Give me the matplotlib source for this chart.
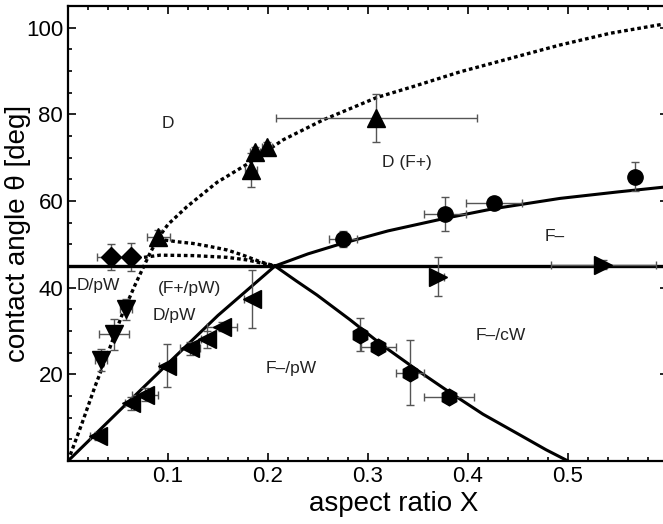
import matplotlib.pyplot as plt
from matplotlib.ticker import MultipleLocator

plt.rcParams['font.family'] = ['Liberation Sans', 'DejaVu Sans']

# boundary curves (X, theta)
d_upper_x = [0.0, 0.014, 0.027, 0.041, 0.054, 0.067, 0.081, 0.090, 0.100, 0.119, 0.149, 0.182,
             0.215, 0.255, 0.309, 0.345, 0.392, 0.442, 0.492, 0.542, 0.600]
d_upper_t = [0.0, 8.7, 17.2, 25.6, 33.7, 40.6, 47.5, 51.4, 54.6, 58.7, 64.3, 68.9,
             74.1, 78.7, 83.9, 86.4, 89.8, 92.9, 96.0, 98.7, 101.0]

arc_hi_x = [0.090, 0.109, 0.125, 0.142, 0.159, 0.175, 0.192, 0.207]
arc_hi_t = [51.2, 50.6, 50.2, 49.5, 48.7, 47.5, 46.0, 45.0]
arc_lo_x = [0.076, 0.092, 0.125, 0.159, 0.179, 0.207]
arc_lo_t = [47.0, 47.5, 47.4, 47.0, 46.4, 45.0]

pw_x = [0.0, 0.05, 0.10, 0.15, 0.207]
pw_t = [0.0, 11.3, 22.5, 33.6, 45.0]

fminus_x = [0.207, 0.240, 0.274, 0.320, 0.377, 0.425, 0.492, 0.550, 0.600]
fminus_t = [45.0, 47.8, 50.2, 53.1, 56.0, 58.2, 60.6, 62.1, 63.3]

cw_x = [0.207, 0.228, 0.249, 0.282, 0.315, 0.349, 0.382, 0.415, 0.452, 0.478, 0.500]
cw_t = [45.0, 41.6, 38.3, 32.6, 26.6, 21.0, 15.8, 10.8, 6.0, 2.6, 0.0]

# measurements
up_x = [0.090, 0.183, 0.187, 0.199, 0.308]
up_t = [51.7, 67.2, 71.4, 72.5, 79.2]
up_xe = [0.0115, 0.006, 0.005, 0.005, 0.1005]
up_te = [1.5, 3.9, 1.0, 1.0, 5.5]

dia_x = [0.043, 0.063]
dia_t = [47.0, 47.0]
dia_xe = [0.014, 0.003]
dia_te = [3.0, 3.2]

dn_x = [0.033, 0.046, 0.058]
dn_t = [23.3, 29.2, 35.0]
dn_xe = [0.006, 0.015, 0.006]
dn_te = [2.5, 3.5, 2.5]

lt_x = [0.030, 0.063, 0.077, 0.099, 0.122, 0.139, 0.154, 0.184]
lt_t = [5.8, 13.3, 15.3, 22.0, 26.0, 28.1, 31.0, 37.4]
lt_xe = [0.008, 0.006, 0.013, 0.008, 0.010, 0.006, 0.015, 0.008]
lt_te = [1.0, 1.5, 1.5, 5.0, 1.5, 2.0, 1.0, 6.6]

ci_x = [0.275, 0.377, 0.426, 0.567]
ci_t = [51.2, 57.0, 59.6, 65.6]
ci_xe = [0.014, 0.021, 0.028, 0.003]
ci_te = [1.9, 4.0, 0.8, 3.4]

hx_x = [0.292, 0.310, 0.342, 0.381]
hx_t = [29.1, 26.4, 20.4, 14.8]
hx_xe = [0.003, 0.0175, 0.014, 0.025]
hx_te = [3.8, 1.0, 7.5, 1.0]

rt_x = [0.370, 0.535]
rt_t = [42.5, 45.3]
rt_xe = [0.006, 0.0525]
rt_te = [4.5, 1.0]

labels = ['D', 'D (F+)', 'F\u2013', 'D/pW', '(F+/pW)', 'D/pW', 'F\u2013/pW', 'F\u2013/cW']
label_x = [0.0995, 0.339, 0.487, 0.030, 0.1215, 0.1065, 0.223, 0.433]
label_t = [77.8, 68.8, 51.7, 40.6, 39.8, 33.6, 21.3, 29.0]

fig = plt.figure(figsize=(6.63, 5.24), dpi=100)
ax = fig.add_axes([68 / 663, 63 / 524, 600 / 663, 455 / 524])

dot = dict(color='black', lw=2.4, linestyle=(0, (1.1, 0.9)), dash_capstyle='butt')
ax.plot(d_upper_x, d_upper_t, **dot)
ax.plot(arc_hi_x, arc_hi_t, **dot)
ax.plot(arc_lo_x, arc_lo_t, **dot)

solid = dict(color='black', lw=2.2, solid_joinstyle='round')
ax.plot(pw_x, pw_t, **solid)
ax.plot(fminus_x, fminus_t, **solid)
ax.plot(cw_x, cw_t, **solid)
ax.axhline(45, color='black', lw=2.4)

eb = dict(ls='none', mfc='black', mec='black', ecolor='#555555', elinewidth=1.0, capsize=3, capthick=1.0)
ax.errorbar(up_x, up_t, xerr=up_xe, yerr=up_te, marker='^', ms=13, **eb)
ax.errorbar(dia_x, dia_t, xerr=dia_xe, yerr=dia_te, marker='D', ms=10, **eb)
ax.errorbar(dn_x, dn_t, xerr=dn_xe, yerr=dn_te, marker='v', ms=13, **eb)
ax.errorbar(lt_x, lt_t, xerr=lt_xe, yerr=lt_te, marker='<', ms=13, **eb)
ax.errorbar(ci_x, ci_t, xerr=ci_xe, yerr=ci_te, marker='o', ms=11, **eb)
ax.errorbar(hx_x, hx_t, xerr=hx_xe, yerr=hx_te, marker='h', ms=12, **eb)
ax.errorbar(rt_x, rt_t, xerr=rt_xe, yerr=rt_te, marker='>', ms=13, **eb)

for s, x, y in zip(labels, label_x, label_t):
    ax.text(x, y, s, ha='center', va='center', fontsize=12.5, color='#222222')

ax.set_xlim(0, 0.6)
ax.set_ylim(0, 105)
ax.set_xticks([0.1, 0.2, 0.3, 0.4, 0.5])
ax.set_xticklabels(['0.1', '0.2', '0.3', '0.4', '0.5'])
ax.set_yticks([20, 40, 60, 80, 100])
ax.xaxis.set_minor_locator(MultipleLocator(0.02))
ax.yaxis.set_minor_locator(MultipleLocator(5))
ax.tick_params(which='both', direction='in', top=True, right=True, labelsize=16, width=1.2)
ax.tick_params(which='major', length=6)
ax.tick_params(which='minor', length=3)
for sp in ax.spines.values():
    sp.set_linewidth(1.6)

ax.set_xlabel('aspect ratio X', fontsize=20)
ax.set_ylabel('contact angle \u03b8 [deg]', fontsize=20)
ax.xaxis.set_label_coords(0.542, -0.066)
ax.yaxis.set_label_coords(-0.062, 0.5)

fig.savefig('out.png', dpi=100)
